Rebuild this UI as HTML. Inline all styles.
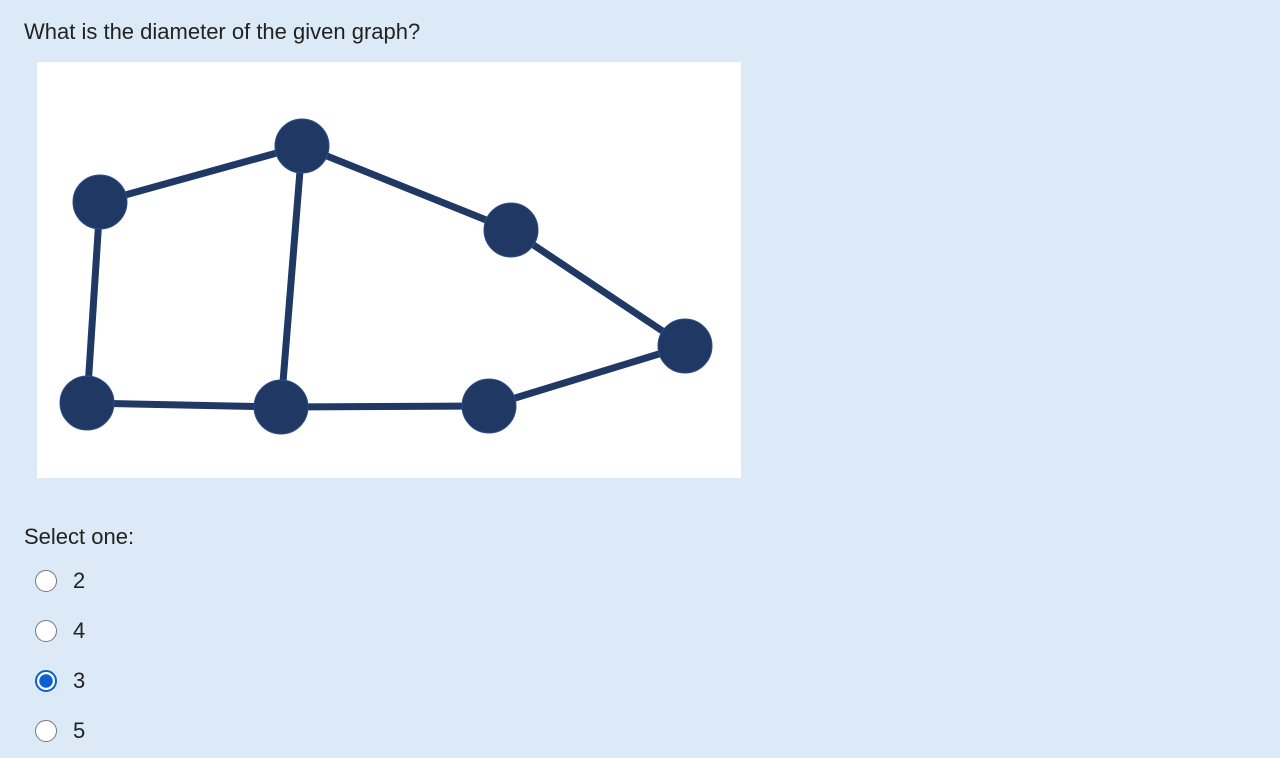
<!DOCTYPE html>
<html><head><meta charset="utf-8"><style>
body{margin:0;width:1280px;height:758px;background:#dbeaf6;font-family:"Liberation Sans",sans-serif;color:#222;position:relative;overflow:hidden}
.t{position:absolute;left:24px;top:19px;font-size:22px}
.sel{position:absolute;left:24px;top:524px;font-size:22px}
.opt{position:absolute;left:35px;height:26px;display:flex;align-items:center;font-size:22px;cursor:pointer}
.r{width:22px;height:22px;border-radius:50%;border:1.5px solid #777;background:#fff;box-sizing:border-box;margin-right:16px}
.r.on{border:2px solid #0b5fd3;background:radial-gradient(circle,#0b5fd3 0 6.5px,#fff 7px)}
</style></head><body>
<div class="t">What is the diameter of the given graph?</div>
<svg style="position:absolute;left:37px;top:62px" width="704" height="416">
<rect width="704" height="416" fill="#fff"/>
<g id="g" transform="translate(-37,-62)"></g>
</svg>
<div class="sel">Select one:</div>
<label class="opt" style="top:568px"><span class="r"></span>2</label>
<label class="opt" style="top:618px"><span class="r"></span>4</label>
<label class="opt" style="top:668px"><span class="r on"></span>3</label>
<label class="opt" style="top:718px"><span class="r"></span>5</label>
<script>
const nodesX=[100,302,511,685,489,281,87];
const nodesY=[202,146,230,346,406,407,403];
const edges=[[0,1],[1,2],[2,3],[3,4],[4,5],[5,6],[6,0],[1,5]];
const g=document.getElementById('g');const ns='http://www.w3.org/2000/svg';
edges.forEach(([a,b],i)=>{const l=document.createElementNS(ns,'line');
l.setAttribute('x1',nodesX[a]);l.setAttribute('y1',nodesY[a]);l.setAttribute('x2',nodesX[b]);l.setAttribute('y2',nodesY[b]);
l.setAttribute('stroke','#1f3864');l.setAttribute('stroke-width','7');


g.appendChild(l);});
nodesX.forEach((x,i)=>{const c=document.createElementNS(ns,'circle');
c.setAttribute('cx',x);c.setAttribute('cy',nodesY[i]);c.setAttribute('r','27');c.setAttribute('fill','#1f3864');c.setAttribute('stroke','#2f4f8a');c.setAttribute('stroke-width','1');


g.appendChild(c);});
</script>
</body></html>
